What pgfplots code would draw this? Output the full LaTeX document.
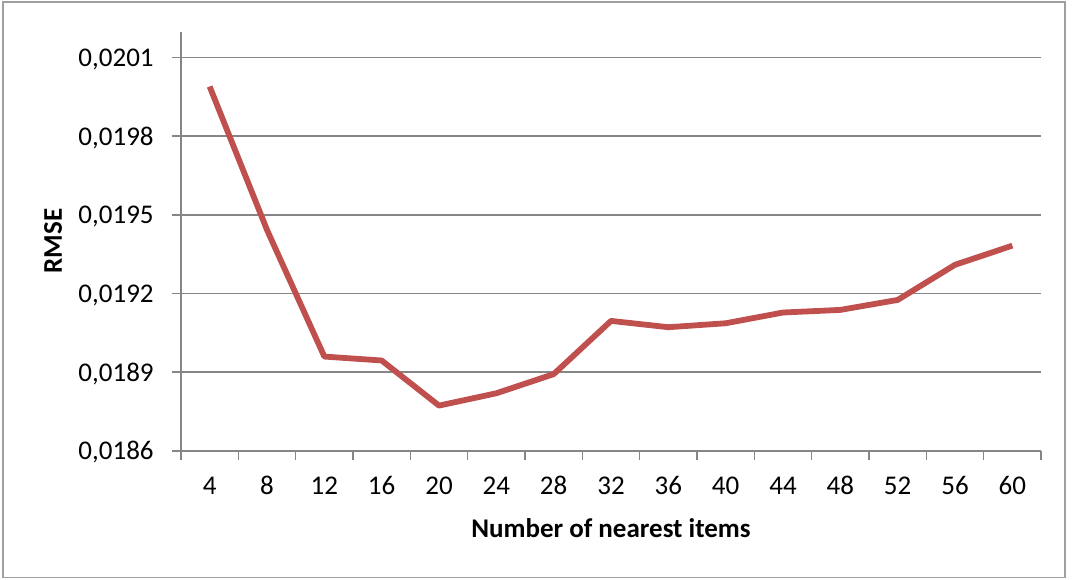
\documentclass[border=0pt]{standalone}
\usepackage{fontspec}
\setmainfont{Carlito}
\usepackage{pgfplots}
\pgfplotsset{compat=1.18}
\definecolor{linered}{RGB}{192,80,77}
\definecolor{gridgray}{RGB}{134,134,134}
\definecolor{framegray}{RGB}{160,160,160}

\begin{document}
\begin{tikzpicture}
\useasboundingbox (0,0) rectangle (536.5bp,290bp);
\draw[framegray, line width=0.8bp] (1.5bp,1.2bp) rectangle (532.5bp,289bp);
\begin{axis}[
    at={(90.5bp,64.65bp)}, anchor=south west,
    scale only axis, width=430bp, height=209.5bp,
    xmin=-0.5, xmax=14.5,
    ymin=0.0186, ymax=0.020198,
    scaled y ticks=false,
    axis x line=bottom, axis y line=left,
    axis line style={-, draw=gridgray, line width=0.8bp},
    tick align=outside,
    major tick length=4.5bp,
    tick style={draw=gridgray, line width=0.8bp},
    xtick={-0.5,0.5,...,14.5},
    xticklabels={},
    extra x ticks={0,1,...,14},
    extra x tick labels={4,8,12,16,20,24,28,32,36,40,44,48,52,56,60},
    extra x tick style={tick style={draw=none}, grid=none},
    xticklabel style={anchor=center, yshift=-13bp},
    ytick={0.0186,0.0189,0.0192,0.0195,0.0198,0.0201},
    yticklabels={{0,0186},{0,0189},{0,0192},{0,0195},{0,0198},{0,0201}},
    yticklabel style={anchor=east, inner sep=0pt, text depth=0pt, xshift=-9bp},
    ymajorgrids,
    grid style={draw=gridgray, line width=0.8bp},
    tick label style={font=\fontsize{13.5bp}{16bp}\selectfont},
    /pgf/number format/assume math mode=true,
    xlabel={Number of nearest items},
    ylabel={RMSE},
    label style={font=\fontsize{13.5bp}{16bp}\selectfont\bfseries},
    xlabel style={at={(axis description cs:0.5,-0.1852)}, anchor=center},
    ylabel style={at={(axis description cs:-0.1488,0.5)}, anchor=center},
    clip=false,
]
\addplot[color=linered, line width=2.9bp, line join=round, no markers] coordinates {
    (0,0.019989) (1,0.019442) (2,0.018959) (3,0.018944) (4,0.018772)
    (5,0.018819) (6,0.018892) (7,0.019095) (8,0.019071) (9,0.019086)
    (10,0.019127) (11,0.019137) (12,0.019175) (13,0.019309) (14,0.019382)
};
\end{axis}
\end{tikzpicture}
\end{document}
